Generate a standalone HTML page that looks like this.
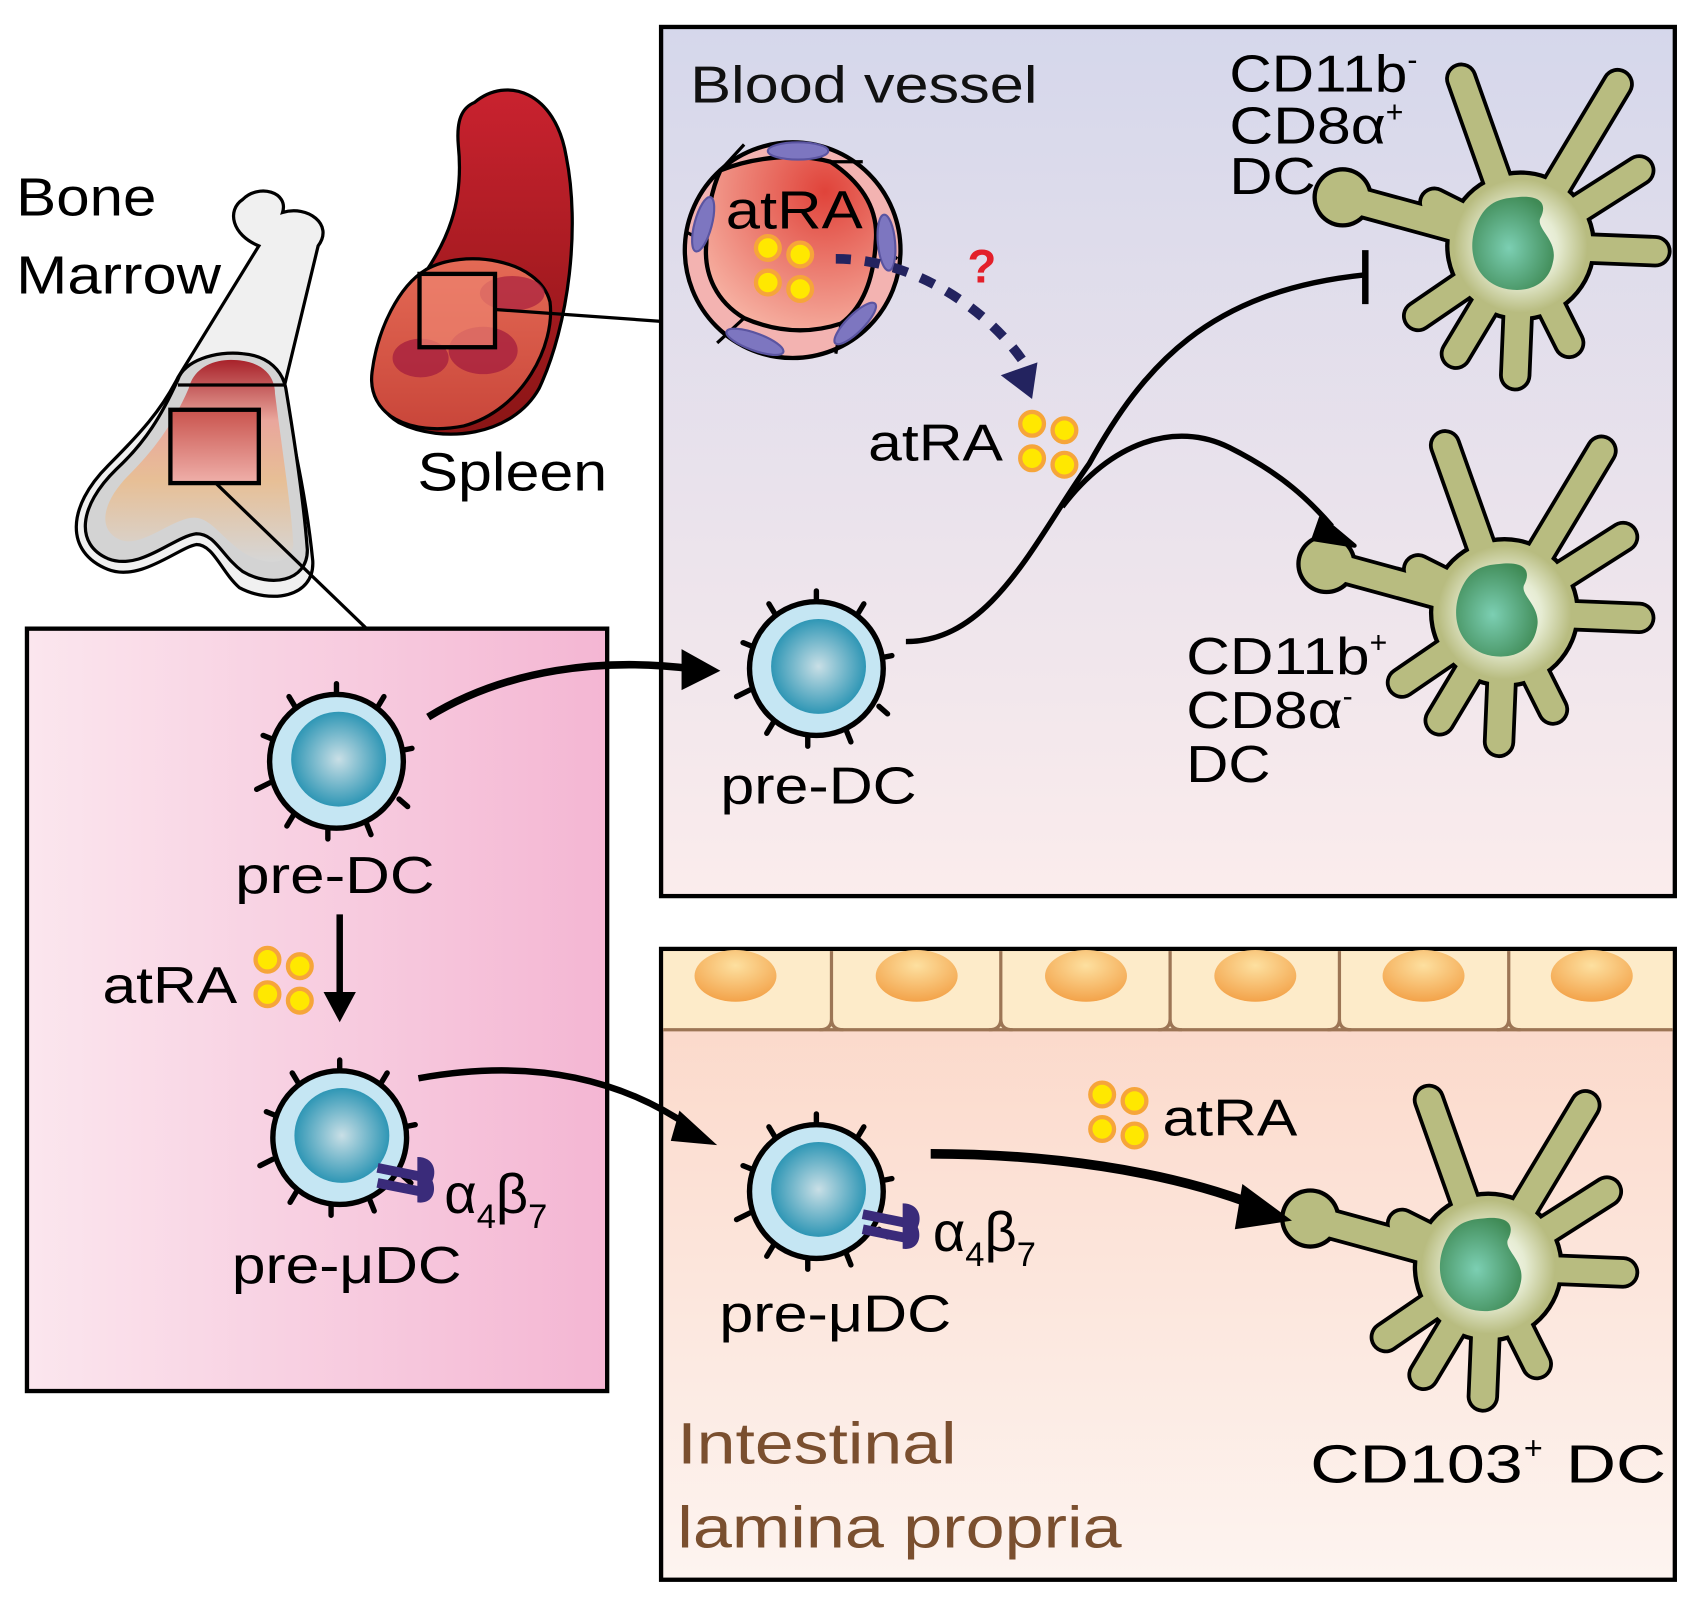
<!DOCTYPE html>
<html><head><meta charset="utf-8"><style>
html,body{margin:0;padding:0;background:#fff;}
svg{display:block;}
text{font-family:"Liberation Sans",sans-serif;}
</style></head><body>
<svg width="1691" height="1597" viewBox="0 0 1568 1481" preserveAspectRatio="none" xmlns="http://www.w3.org/2000/svg">
<defs>
<linearGradient id="bv" x1="0" y1="0" x2="0" y2="1"><stop offset="0" stop-color="#d5d7eb"/><stop offset="1" stop-color="#fbecec"/></linearGradient>
<linearGradient id="bm" x1="0" y1="0" x2="1" y2="0"><stop offset="0" stop-color="#fbe6ee"/><stop offset="1" stop-color="#f4b6d3"/></linearGradient>
<linearGradient id="il" x1="0" y1="0" x2="0" y2="1"><stop offset="0" stop-color="#fbd6c6"/><stop offset="1" stop-color="#fdf4f0"/></linearGradient>
<radialGradient id="nuc" cx="0.5" cy="0.5" r="0.55"><stop offset="0" stop-color="#c9dfe6"/><stop offset="1" stop-color="#1f8fb0"/></radialGradient>
<radialGradient id="dcg" cx="0.5" cy="0.5" r="0.5"><stop offset="0" stop-color="#ffffff"/><stop offset="0.55" stop-color="#e6ecd3"/><stop offset="1" stop-color="#b8bc80"/></radialGradient>
<radialGradient id="dcn" cx="0.45" cy="0.55" r="0.6"><stop offset="0" stop-color="#7ccfb3"/><stop offset="1" stop-color="#3f8a55"/></radialGradient>
<radialGradient id="bvr" cx="0.7" cy="0.2" r="0.9"><stop offset="0" stop-color="#e0433a"/><stop offset="1" stop-color="#f7b5a6"/></radialGradient>
<radialGradient id="on" cx="0.5" cy="0.3" r="0.7"><stop offset="0" stop-color="#fde0a0"/><stop offset="1" stop-color="#f3a34a"/></radialGradient>
<linearGradient id="spl" x1="0" y1="0" x2="0" y2="1"><stop offset="0" stop-color="#c9222f"/><stop offset="1" stop-color="#8a1515"/></linearGradient>
<linearGradient id="spi" x1="0" y1="0" x2="0" y2="1"><stop offset="0" stop-color="#e46a55"/><stop offset="1" stop-color="#c9463a"/></linearGradient>
<linearGradient id="mar" x1="0" y1="0" x2="0" y2="1"><stop offset="0" stop-color="#a8222a"/><stop offset="0.3" stop-color="#e9a69c"/><stop offset="0.6" stop-color="#e7bf96"/><stop offset="1" stop-color="#d6d6d6"/></linearGradient>
<linearGradient id="box" x1="0" y1="0" x2="0" y2="1"><stop offset="0" stop-color="#c9534d"/><stop offset="1" stop-color="#efb0aa"/></linearGradient>

<g id="dots">
<circle cx="0" cy="0" r="11" fill="#ffe800" stroke="#f6a53a" stroke-width="4"/>
<circle cx="30" cy="6" r="11" fill="#ffe800" stroke="#f6a53a" stroke-width="4"/>
<circle cx="0" cy="32" r="11" fill="#ffe800" stroke="#f6a53a" stroke-width="4"/>
<circle cx="30" cy="38" r="11" fill="#ffe800" stroke="#f6a53a" stroke-width="4"/>
</g>

<g id="pre">
<g stroke="#000" stroke-width="5" stroke-linecap="round" fill="none">
<path d="M0,-62 L0,-72 M-38,-50 L-44,-60 M38,-50 L44,-60 M-58,-20 L-68,-24 M60,-10 L70,-12 M-62,20 L-74,26 M58,35 L66,42 M-40,50 L-46,60 M-8,62 L-8,72 M28,58 L32,68"/>
</g>
<circle r="62" fill="#c5e6f3" stroke="#000" stroke-width="5"/>
<circle cx="2" cy="-2" r="44" fill="url(#nuc)"/>
</g>

<g id="integ">
<path d="M-45,-12 L-5,-4 M-45,2 L-5,10" stroke="#3a2b7a" stroke-width="9"/>
<path d="M-8,-22 C8,-22 10,-8 6,0 C10,10 6,22 -8,20 Z" fill="#3a2b7a"/>
</g>

<g id="dc">
<g stroke="#000" stroke-width="30" stroke-linecap="round" fill="none">
<path d="M0,0 L-55,-155 M0,0 L90,-150 M0,0 L-165,-45 M-20,-10 L-80,-40 M0,0 L125,5 M0,0 L110,-70 M0,0 L45,90 M0,0 L-5,120 M0,0 L-60,100 M0,0 L-95,65"/>
</g>
<circle r="70" fill="#000"/>
<circle cx="-165" cy="-45" r="28" fill="#000"/>
<g stroke="#b8bc80" stroke-width="23" stroke-linecap="round" fill="none">
<path d="M0,0 L-55,-155 M0,0 L90,-150 M0,0 L-165,-45 M-20,-10 L-80,-40 M0,0 L125,5 M0,0 L110,-70 M0,0 L45,90 M0,0 L-5,120 M0,0 L-60,100 M0,0 L-95,65"/>
</g>
<circle cx="-165" cy="-45" r="24" fill="#b8bc80"/>
<circle r="66" fill="#b8bc80"/>
<circle r="62" fill="url(#dcg)"/>
<path d="M-5,-45 C20,-48 25,-38 18,-25 C15,-15 35,-5 30,15 C25,40 0,45 -20,38 C-45,28 -50,0 -40,-22 C-32,-40 -20,-44 -5,-45 Z" fill="url(#dcn)"/>
</g>
</defs>

<rect x="613" y="25" width="940" height="806" fill="url(#bv)" stroke="#000" stroke-width="4"/>
<rect x="613" y="880" width="940" height="585" fill="url(#il)" stroke="#000" stroke-width="4"/>
<rect x="25" y="583" width="538" height="707" fill="url(#bm)" stroke="#000" stroke-width="4"/>

<g stroke="#9c7555" stroke-width="3">
<path d="M615,882 L1551,882 L1551,955 L615,955 Z" fill="#fdebc9" stroke="none"/>
<path d="M615,955 L1551,955" fill="none"/>
<path d="M771,882 L771,945 Q771,955 760,955 M771,945 Q771,955 782,955 M928,882 L928,945 Q928,955 917,955 M928,945 Q928,955 939,955 M1085,882 L1085,945 Q1085,955 1074,955 M1085,945 Q1085,955 1096,955 M1242,882 L1242,945 Q1242,955 1231,955 M1242,945 Q1242,955 1253,955 M1399,882 L1399,945 Q1399,955 1388,955 M1399,945 Q1399,955 1410,955" fill="none"/>
</g>
<g fill="url(#on)">
<ellipse cx="682" cy="905" rx="38" ry="24"/><ellipse cx="850" cy="905" rx="38" ry="24"/><ellipse cx="1007" cy="905" rx="38" ry="24"/><ellipse cx="1164" cy="905" rx="38" ry="24"/><ellipse cx="1320" cy="905" rx="38" ry="24"/><ellipse cx="1476" cy="905" rx="38" ry="24"/>
</g>

<!-- bone -->
<path d="M225,185 C240,170 268,178 262,197 C285,190 310,208 295,228 L262,365 C275,420 285,470 290,520 C292,555 250,560 222,545 C205,530 198,505 182,505 C165,508 130,540 100,528 C60,512 62,470 100,432 C130,402 150,380 165,350 L240,228 C215,218 210,195 225,185 Z" fill="#f0f0f0" stroke="#000" stroke-width="3"/>
<path d="M165,352 C170,335 200,325 225,328 C250,330 262,345 265,360 C275,420 282,470 285,510 C285,540 250,545 225,530 C205,515 200,495 182,495 C160,498 130,530 100,518 C70,505 72,470 108,435 C135,410 150,385 165,352 Z" fill="#d3d3d3" stroke="#000" stroke-width="3"/>
<path d="M175,360 C180,340 200,332 220,334 C245,336 255,350 255,365 C262,420 270,470 272,505 C270,525 245,525 225,512 C205,498 195,480 180,480 C160,480 130,510 110,500 C90,490 95,465 120,440 C140,420 160,395 175,360 Z" fill="url(#mar)"/>
<path d="M165,357 L265,357" stroke="#000" stroke-width="3"/>
<rect x="158" y="380" width="82" height="68" fill="url(#box)" stroke="#000" stroke-width="4"/>
<line x1="200" y1="448" x2="340" y2="583" stroke="#000" stroke-width="3"/>

<!-- spleen -->
<path d="M440,95 C470,70 515,85 525,145 C538,210 528,300 500,360 C475,405 410,412 370,392 C330,368 345,312 380,272 C418,225 430,185 425,135 C423,112 428,100 440,95 Z" fill="url(#spl)" stroke="#000" stroke-width="3"/>
<path d="M395,250 C430,230 500,240 510,280 C515,320 485,380 430,395 C380,405 340,385 345,345 C350,305 370,265 395,250 Z" fill="url(#spi)" stroke="#000" stroke-width="3"/>
<ellipse cx="390" cy="332" rx="26" ry="18" fill="#a8203f" opacity="0.8"/>
<ellipse cx="448" cy="325" rx="32" ry="22" fill="#a8203f" opacity="0.8"/>
<ellipse cx="475" cy="272" rx="30" ry="16" fill="#a8203f" opacity="0.7"/>
<rect x="389" y="254" width="70" height="68" fill="#ee8470" fill-opacity="0.7" stroke="#000" stroke-width="4"/>
<line x1="459" y1="287" x2="613" y2="298" stroke="#000" stroke-width="3"/>

<!-- blood vessel -->
<circle cx="735" cy="232" r="100" fill="#f3b3b1" stroke="#000" stroke-width="4"/>
<path d="M668,158 C700,145 740,142 770,150 C800,170 815,195 812,225 C810,260 800,285 780,300 C750,310 720,308 690,295 C665,280 652,255 655,225 C655,200 660,175 668,158 Z" fill="url(#bvr)" stroke="#000" stroke-width="4"/>
<path d="M668,158 L690,134 M770,150 L800,150 M812,225 L832,240 M780,300 L775,328 M690,295 L665,318 M655,225 L636,215" stroke="#000" stroke-width="3"/>
<g fill="#7d76c0" stroke="#5a54a0" stroke-width="2">
<ellipse cx="740" cy="140" rx="28" ry="8"/>
<ellipse cx="652" cy="208" rx="8" ry="26" transform="rotate(15 652 208)"/>
<ellipse cx="822" cy="225" rx="8" ry="26" transform="rotate(-5 822 225)"/>
<ellipse cx="700" cy="317" rx="28" ry="8" transform="rotate(20 700 317)"/>
<ellipse cx="793" cy="300" rx="26" ry="8" transform="rotate(-45 793 300)"/>
</g>
<text x="673" y="212" font-size="50" textLength="127" lengthAdjust="spacingAndGlyphs">atRA</text>
<use href="#dots" x="712" y="230"/>
<path d="M775,240 C850,240 920,290 952,340" fill="none" stroke="#23235f" stroke-width="9" stroke-dasharray="14,13"/>
<path d="M928,348 L962,336 L957,370 Z" fill="#23235f"/>
<text x="897" y="262" font-size="44" font-weight="bold" fill="#e3202a">?</text>

<text x="640" y="95" font-size="48" fill="#111" textLength="322" lengthAdjust="spacingAndGlyphs">Blood vessel</text>
<text x="1140" y="85" font-size="48"><tspan textLength="165" lengthAdjust="spacingAndGlyphs">CD11b</tspan><tspan font-size="28" dy="-20">-</tspan></text>
<text x="1140" y="133" font-size="48"><tspan textLength="145" lengthAdjust="spacingAndGlyphs">CD8α</tspan><tspan font-size="28" dy="-20">+</tspan></text>
<text x="1140" y="180" font-size="48" textLength="80" lengthAdjust="spacingAndGlyphs">DC</text>
<text x="805" y="427" font-size="48" textLength="125" lengthAdjust="spacingAndGlyphs">atRA</text>
<use href="#dots" x="957" y="393"/>
<text x="1100" y="625" font-size="48"><tspan textLength="170" lengthAdjust="spacingAndGlyphs">CD11b</tspan><tspan font-size="28" dy="-20">+</tspan></text>
<text x="1100" y="675" font-size="48"><tspan textLength="145" lengthAdjust="spacingAndGlyphs">CD8α</tspan><tspan font-size="28" dy="-20">-</tspan></text>
<text x="1100" y="725" font-size="48" textLength="78" lengthAdjust="spacingAndGlyphs">DC</text>

<use href="#dc" x="1410" y="228"/>
<use href="#dc" x="1395" y="568"/>
<use href="#dc" x="1380" y="1175"/>

<path d="M840,595 C920,595 960,500 1010,430 C1060,340 1120,270 1265,255" fill="none" stroke="#000" stroke-width="5"/>
<path d="M1266,232 L1266,282" stroke="#000" stroke-width="6"/>
<path d="M985,470 C1030,410 1090,390 1140,415 C1190,440 1215,465 1235,488" fill="none" stroke="#000" stroke-width="5"/>
<path d="M1225,480 L1256,506 L1218,500 Z" fill="#000" stroke="#000" stroke-width="4" stroke-linejoin="round"/>

<use href="#pre" x="757" y="620"/>
<text x="668" y="745" font-size="48" textLength="182" lengthAdjust="spacingAndGlyphs">pre-DC</text>

<use href="#pre" x="312" y="706"/>
<text x="218" y="828" font-size="48" textLength="185" lengthAdjust="spacingAndGlyphs">pre-DC</text>
<path d="M397,665 C470,620 560,610 640,620" fill="none" stroke="#000" stroke-width="7"/>
<path d="M632,602 L668,622 L632,640 Z" fill="#000"/>
<path d="M315,848 L315,925" stroke="#000" stroke-width="6"/>
<path d="M300,920 L315,948 L330,920 Z" fill="#000"/>
<text x="95" y="930" font-size="48" textLength="125" lengthAdjust="spacingAndGlyphs">atRA</text>
<use href="#dots" x="248" y="890"/>
<use href="#pre" x="315" y="1055"/>
<use href="#integ" x="395" y="1095"/>
<text x="412" y="1125" font-size="52">α<tspan font-size="32" dy="14">4</tspan><tspan dy="-14">β</tspan><tspan font-size="32" dy="14">7</tspan></text>
<text x="215" y="1190" font-size="48" textLength="213" lengthAdjust="spacingAndGlyphs">pre-μDC</text>
<path d="M388,1000 C470,985 560,990 640,1045" fill="none" stroke="#000" stroke-width="6"/>
<path d="M630,1030 L665,1062 L622,1058 Z" fill="#000"/>

<use href="#pre" x="757" y="1105"/>
<use href="#integ" x="845" y="1138"/>
<text x="865" y="1160" font-size="52">α<tspan font-size="32" dy="14">4</tspan><tspan dy="-14">β</tspan><tspan font-size="32" dy="14">7</tspan></text>
<text x="667" y="1235" font-size="48" textLength="215" lengthAdjust="spacingAndGlyphs">pre-μDC</text>
<path d="M863,1070 C970,1070 1080,1085 1165,1118" fill="none" stroke="#000" stroke-width="9"/>
<path d="M1152,1098 L1198,1132 L1145,1140 Z" fill="#000"/>
<use href="#dots" x="1022" y="1015"/>
<text x="1078" y="1053" font-size="48" textLength="125" lengthAdjust="spacingAndGlyphs">atRA</text>
<text x="1215" y="1375" font-size="50" textLength="197" lengthAdjust="spacingAndGlyphs">CD103</text>
<text x="1413" y="1353" font-size="30">+</text>
<text x="1452" y="1375" font-size="50" textLength="93" lengthAdjust="spacingAndGlyphs">DC</text>
<text x="628" y="1357" font-size="54" fill="#7a4f2f" textLength="259" lengthAdjust="spacingAndGlyphs">Intestinal</text>
<text x="628" y="1435" font-size="54" fill="#7a4f2f" textLength="412" lengthAdjust="spacingAndGlyphs">lamina propria</text>

<text x="15" y="200" font-size="50" textLength="130" lengthAdjust="spacingAndGlyphs">Bone</text>
<text x="15" y="272" font-size="50" textLength="190" lengthAdjust="spacingAndGlyphs">Marrow</text>
<text x="387" y="455" font-size="50" textLength="176" lengthAdjust="spacingAndGlyphs">Spleen</text>
</svg>
</body></html>
